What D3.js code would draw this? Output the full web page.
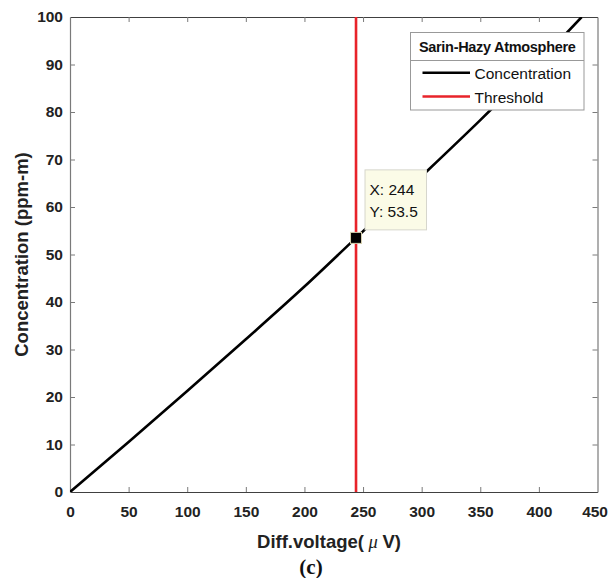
<!DOCTYPE html>
<html>
<head>
<meta charset="utf-8">
<script src="https://cdn.jsdelivr.net/npm/d3@7"></script>
<style>
  html, body { margin: 0; padding: 0; background: #fff; }
  svg { display: block; }
</style>
</head>
<body>
<svg id="chart" width="608" height="578"></svg>
<script>
// ---- data ----
const voltage = [0, 50, 100, 150, 200, 244, 300, 350, 400, 436.5];
const concentration = [0, 10.55, 21.25, 32.15, 43.25, 53.5, 66.5, 78.3, 90.55, 100];
const thresholdX = [244];
const tipPoint = [244, 53.5];
const xTicks = [0, 50, 100, 150, 200, 250, 300, 350, 400, 450];
const yTicks = [0, 10, 20, 30, 40, 50, 60, 70, 80, 90, 100];
const legendTitle = "Sarin-Hazy Atmosphere";
const seriesNames = ["Concentration", "Threshold"];
const seriesColors = ["#000000", "#e8232a"];

// ---- layout ----
const SANS = "'Liberation Sans', Arial, sans-serif";
const SERIF = "'Liberation Serif', 'Times New Roman', serif";
const L = 70, R = 597.5, T = 17, B = 492;
const svg = d3.select("#chart").style("font-family", SANS);
const x = d3.scaleLinear().domain([0, 450]).range([L, R]);
const y = d3.scaleLinear().domain([0, 100]).range([B, T]);

const textColor = "#222";

svg.append("defs").append("clipPath").attr("id", "plotclip")
  .append("rect").attr("x", L).attr("y", T).attr("width", R - L).attr("height", B - T);

// axes (ticks inward, mirrored)
const tickLen = 5;
const gBottom = svg.append("g").attr("transform", `translate(0,${B})`)
  .call(d3.axisBottom(x).tickValues(xTicks).tickSizeInner(-tickLen).tickSizeOuter(0).tickPadding(14));
const gTop = svg.append("g").attr("transform", `translate(0,${T})`)
  .call(d3.axisTop(x).tickValues(xTicks).tickSizeInner(-tickLen).tickSizeOuter(0).tickFormat(""));
const gLeft = svg.append("g").attr("transform", `translate(${L},0)`)
  .call(d3.axisLeft(y).tickValues(yTicks).tickSizeInner(-tickLen).tickSizeOuter(0).tickPadding(7));
const gRight = svg.append("g").attr("transform", `translate(${R},0)`)
  .call(d3.axisRight(y).tickValues(yTicks).tickSizeInner(-tickLen).tickSizeOuter(0).tickFormat(""));

[gBottom, gTop].forEach(g => {
  g.select(".domain").attr("stroke", "#404040").attr("stroke-width", 1.2);
  g.selectAll(".tick line").attr("stroke", "#7a7a7a");
});
[gLeft, gRight].forEach(g => {
  g.select(".domain").attr("stroke", "#7a7a7a").attr("stroke-width", 1.2);
  g.selectAll(".tick line").attr("stroke", "#7a7a7a");
});
[gBottom, gLeft, gTop, gRight].forEach(g => g.attr("font-family", null).attr("font-size", null));
[gBottom, gLeft].forEach(g => {
  g.selectAll(".tick text")
    .style("font-family", SANS)
    .style("font-size", "15.5px").style("font-weight", "bold").attr("fill", textColor);
});
gBottom.selectAll(".tick text").attr("dy", "0.71em");
gBottom.selectAll(".tick").filter(d => d === 450).select("text")
  .attr("text-anchor", "end").attr("x", 10);
gLeft.selectAll(".tick text").attr("x", -7);

gBottom.selectAll(".tick").filter(d => d === 0 || d === 450).select("line").remove();
gTop.selectAll(".tick").filter(d => d === 0 || d === 450).select("line").remove();
gLeft.selectAll(".tick").filter(d => d === 0 || d === 100).select("line").remove();
gRight.selectAll(".tick").filter(d => d === 0 || d === 100).select("line").remove();

// plot content
const plot = svg.append("g").attr("clip-path", "url(#plotclip)");

const data = voltage.map((v, i) => [v, concentration[i]]);
plot.append("path")
  .datum(data)
  .attr("fill", "none")
  .attr("stroke", seriesColors[0])
  .attr("stroke-width", 2.6)
  .attr("d", d3.line().x(d => x(d[0])).y(d => y(d[1])).curve(d3.curveMonotoneX));

plot.selectAll("line.threshold").data(thresholdX).join("line")
  .attr("class", "threshold")
  .attr("x1", d => x(d)).attr("x2", d => x(d))
  .attr("y1", y(0)).attr("y2", y(100))
  .attr("stroke", seriesColors[1]).attr("stroke-width", 2.6);

// data tip marker
const ms = 11;
svg.append("rect")
  .attr("x", x(tipPoint[0]) - ms / 2).attr("y", y(tipPoint[1]) - ms / 2)
  .attr("width", ms).attr("height", ms)
  .attr("fill", "#000").attr("stroke", "#d8d2b0").attr("stroke-width", 1);

// data tip box
const tipX = x(tipPoint[0]) + 9, tipY = y(tipPoint[1]) - 68;
svg.append("rect")
  .attr("x", tipX).attr("y", tipY).attr("width", 61.5).attr("height", 60)
  .attr("fill", "#fbfbe7").attr("stroke", "#d6d6cc").attr("stroke-width", 1);
svg.append("text").attr("x", tipX + 4.5).attr("y", tipY + 25.5)
  .style("font-size", "15.5px").attr("fill", "#111").text("X: " + tipPoint[0]);
svg.append("text").attr("x", tipX + 4.5).attr("y", tipY + 47.5)
  .style("font-size", "15.5px").attr("fill", "#111").text("Y: " + tipPoint[1]);

// legend
const lg = svg.append("g");
const lx = 410.5, ly = 32.5, lw = 173.5, lh = 77.5;
lg.append("rect").attr("x", lx).attr("y", ly).attr("width", lw).attr("height", lh)
  .attr("fill", "#fff").attr("stroke", "#999").attr("stroke-width", 1);
lg.append("line").attr("x1", lx).attr("x2", lx + lw).attr("y1", 60.5).attr("y2", 60.5)
  .attr("stroke", "#999").attr("stroke-width", 1);
lg.append("text").attr("x", lx + lw / 2).attr("y", 51.5).attr("text-anchor", "middle")
  .style("font-size", "14.5px").style("font-weight", "bold").attr("fill", "#111")
  .attr("letter-spacing", -0.3).text(legendTitle);
const entryY = [72.7, 96.5];
seriesNames.forEach((name, i) => {
  lg.append("line").attr("x1", 422.5).attr("x2", 470).attr("y1", entryY[i]).attr("y2", entryY[i])
    .attr("stroke", seriesColors[i]).attr("stroke-width", 2.6);
  lg.append("text").attr("x", 474.5).attr("y", entryY[i] + 6)
    .style("font-size", "15.5px").attr("fill", "#111").text(name);
});

// axis titles
svg.append("text")
  .attr("transform", `translate(28,${(T + B) / 2}) rotate(-90)`)
  .attr("text-anchor", "middle")
  .style("font-size", "18.5px").style("font-weight", "bold").attr("fill", textColor)
  .text("Concentration (ppm-m)");

const xt = svg.append("text")
  .attr("x", 329).attr("y", 547.5).attr("text-anchor", "middle")
  .style("font-size", "18.5px").style("font-weight", "bold").attr("fill", textColor);
xt.append("tspan").text("Diff.voltage(");
xt.append("tspan").style("font-style", "italic").style("font-weight", "normal")
  .style("font-family", SERIF).text(" μ ");
xt.append("tspan").text("V)");

svg.append("text")
  .attr("x", 311).attr("y", 574).attr("text-anchor", "middle")
  .style("font-family", SERIF)
  .style("font-size", "21px").style("font-weight", "bold").attr("fill", "#111")
  .text("(c)");
</script>
</body>
</html>
